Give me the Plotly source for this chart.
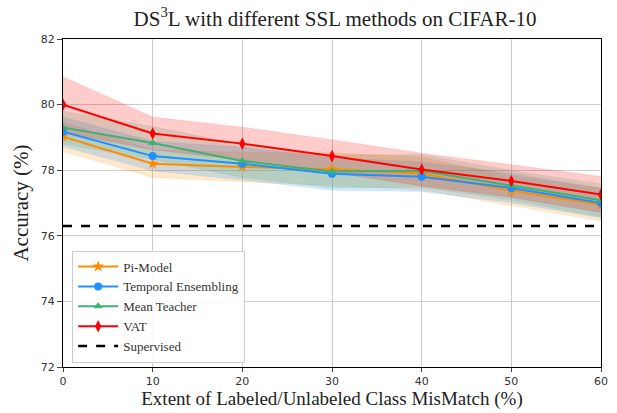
import plotly.graph_objects as go

x = [0, 10, 20, 30, 40, 50, 60]

pi_model = [79.02, 78.20, 78.10, 78.03, 77.90, 77.37, 76.95]
pi_std = [0.45, 0.42, 0.45, 0.50, 0.50, 0.45, 0.50]

temporal = [79.17, 78.43, 78.20, 77.89, 77.80, 77.46, 77.00]
temporal_std = [0.45, 0.45, 0.50, 0.50, 0.45, 0.45, 0.45]

mean_teacher = [79.30, 78.83, 78.28, 77.96, 77.98, 77.54, 77.08]
mean_teacher_std = [0.50, 0.50, 0.50, 0.50, 0.50, 0.45, 0.50]

vat = [80.00, 79.12, 78.81, 78.43, 78.02, 77.67, 77.26]
vat_std = [0.85, 0.50, 0.50, 0.50, 0.50, 0.50, 0.55]

supervised = 76.3

series = [
    ("Pi-Model", pi_model, pi_std, "#ff8c00", "rgba(255,140,0,0.2)", "star", 9),
    ("Temporal Ensembling", temporal, temporal_std, "#1e90ff", "rgba(30,144,255,0.2)", "circle", 8),
    ("Mean Teacher", mean_teacher, mean_teacher_std, "#3cb371", "rgba(60,179,113,0.2)", "triangle-up", 8),
    ("VAT", vat, vat_std, "#ff0000", "rgba(255,0,0,0.2)", "diamond-tall", 9),
]

SERIF = "Times New Roman"

fig = go.Figure()

for name, y, s, col, fill, sym, ms in series:
    upper = [a + b for a, b in zip(y, s)]
    lower = [a - b for a, b in zip(y, s)]
    fig.add_trace(go.Scatter(x=x, y=upper, mode="lines", line=dict(width=0.5, color=fill),
                             showlegend=False, hoverinfo="skip"))
    fig.add_trace(go.Scatter(x=x, y=lower, mode="lines", line=dict(width=0.5, color=fill),
                             fill="tonexty", fillcolor=fill, showlegend=False, hoverinfo="skip"))

for name, y, s, col, fill, sym, ms in series:
    fig.add_trace(go.Scatter(x=x, y=y, mode="lines+markers", name=name,
                             line=dict(color=col, width=2),
                             marker=dict(symbol=sym, size=ms, color=col)))

fig.add_trace(go.Scatter(x=[x[0], x[-1]], y=[supervised, supervised], mode="lines",
                         name="Supervised", line=dict(color="black", width=2.5, dash="dash")))

fig.update_layout(
    width=617, height=413,
    margin=dict(l=63, r=9, t=39, b=46),
    paper_bgcolor="white", plot_bgcolor="white",
    font=dict(family=SERIF, size=13, color="#333"),
    title=dict(text="DS<sup>3</sup>L with different SSL methods on CIFAR-10",
               x=0.543, xanchor="center", y=0.955, yanchor="middle",
               font=dict(family=SERIF, size=21, color="#222")),
    legend=dict(x=0.017, y=0.355, xanchor="left", yanchor="top",
                traceorder="normal",
                bgcolor="rgba(255,255,255,0.85)", bordercolor="#cccccc", borderwidth=1,
                font=dict(family=SERIF, size=13, color="#333"),
                tracegroupgap=0, itemwidth=40),
    xaxis=dict(range=[0, 60], tickvals=x, ticks="outside", ticklen=4,
               showgrid=True, gridcolor="#cccccc", gridwidth=1,
               showline=True, linecolor="black", linewidth=1, mirror=True,
               zeroline=False, tickfont=dict(family="DejaVu Sans", size=11, color="#333"),
               title=dict(text="Extent of Labeled/Unlabeled Class MisMatch (%)",
                          font=dict(family=SERIF, size=19, color="#222"),
                          standoff=2)),
    yaxis=dict(range=[72, 82], tickvals=[72, 74, 76, 78, 80, 82], ticks="outside", ticklen=5,
               showgrid=True, gridcolor="#cccccc", gridwidth=1,
               showline=True, linecolor="black", linewidth=1, mirror=True,
               zeroline=False, tickfont=dict(family="DejaVu Sans", size=11, color="#333"),
               title=dict(text="Accuracy (%)",
                          font=dict(family=SERIF, size=21, color="#222"),
                          standoff=6)),
)

fig.write_html("out.html")
